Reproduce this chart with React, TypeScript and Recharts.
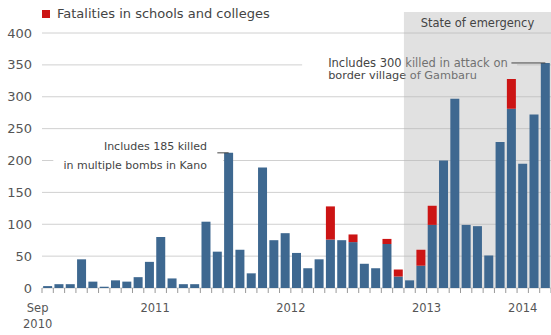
import React from 'react'
import { BarChart, Bar, XAxis, YAxis, CartesianGrid, ReferenceArea, ReferenceLine } from 'recharts'

// Months, Sep 2010 - May 2014
const months = [
  'Sep 2010', 'Oct 2010', 'Nov 2010', 'Dec 2010',
  'Jan 2011', 'Feb 2011', 'Mar 2011', 'Apr 2011', 'May 2011', 'Jun 2011',
  'Jul 2011', 'Aug 2011', 'Sep 2011', 'Oct 2011', 'Nov 2011', 'Dec 2011',
  'Jan 2012', 'Feb 2012', 'Mar 2012', 'Apr 2012', 'May 2012', 'Jun 2012',
  'Jul 2012', 'Aug 2012', 'Sep 2012', 'Oct 2012', 'Nov 2012', 'Dec 2012',
  'Jan 2013', 'Feb 2013', 'Mar 2013', 'Apr 2013', 'May 2013', 'Jun 2013',
  'Jul 2013', 'Aug 2013', 'Sep 2013', 'Oct 2013', 'Nov 2013', 'Dec 2013',
  'Jan 2014', 'Feb 2014', 'Mar 2014', 'Apr 2014', 'May 2014',
]

// other fatalities (blue)
const otherDeaths = [
  3, 6, 6, 45, 10, 2, 12, 10, 17, 41, 80, 15, 6, 6, 104, 57, 212, 60, 23, 189, 75, 86, 55,
  31, 45, 76, 75, 72, 38, 31, 69, 18, 12, 35, 99, 200, 297, 99, 97, 51, 229, 281, 195, 272, 353,
]

// fatalities in schools and colleges (red)
const schoolDeaths = [
  0, 0, 0, 0, 0, 0, 0, 0, 0, 0, 0, 0, 0, 0, 0, 0, 0, 0, 0, 0, 0, 0, 0,
  0, 0, 52, 0, 12, 0, 0, 8, 11, 0, 25, 30, 0, 0, 0, 0, 0, 0, 47, 0, 0, 0,
]

const yTicks = [0, 50, 100, 150, 200, 250, 300, 350, 400]

const yearLabels: Record<string, string[]> = {
  'Sep 2010': ['Sep', '2010'],
  'Jul 2011': ['2011'],
  'Jul 2012': ['2012'],
  'Jul 2013': ['2013'],
  'Mar 2014': ['2014'],
}

const data = months.map((m, i) => ({ month: m, other: otherDeaths[i], schools: schoolDeaths[i] }))

const W = 551
const H = 335
const LEFT = 42
const STEP = (W - LEFT) / months.length
const BLUE = '#3e6890'
const RED = '#cc1414'
const TEXT = '#555'
const FONT = '"DejaVu Sans", Verdana, sans-serif'

const MonthTick = (props: any) => {
  const { x, y, payload } = props
  const label = yearLabels[payload.value]
  let lx = x
  if (payload.value.startsWith('Jul')) lx = x - STEP / 2
  if (payload.value === 'Sep 2010') lx = x - 10
  return (
    <g>
      <line x1={x - STEP / 2} x2={x - STEP / 2} y1={y} y2={y + 5} stroke="#999" />
      {payload.index === months.length - 1 && (
        <line x1={x + STEP / 2} x2={x + STEP / 2} y1={y} y2={y + 5} stroke="#999" />
      )}
      {label &&
        label.map((t, i) => (
          <text key={i} x={lx} y={y + 24 + i * 16} textAnchor="middle" fontSize={11.5} fill={TEXT}>
            {t}
          </text>
        ))}
    </g>
  )
}

// annotation text, right-aligned to the box edge
const kanoLabel = (props: any) => {
  const vb = props.viewBox || {}
  const right = Number(vb.x) + Number(vb.width) - 16
  const y = Number(vb.y)
  return (
    <g>
      <text x={right} y={y + 12.5} fontSize={11} fill="#444" textAnchor="end">Includes 185 killed</text>
      <text x={right} y={y + 31} fontSize={11} fill="#444" textAnchor="end">in multiple bombs in Kano</text>
    </g>
  )
}

const gambaruLabel = (props: any) => {
  const { x, y } = props.viewBox
  return (
    <g>
      <text x={x + 26} y={y + 13.5} fontSize={11.5} fill="#444">Includes 300 killed in attack on</text>
      <text x={x + 26} y={y + 26} fontSize={11.3} fill="#444">border village of Gambaru</text>
    </g>
  )
}

const emergencyLabel = (props: any) => {
  const { x, y, width } = props.viewBox
  return (
    <text x={x + width / 2} y={y + 15} textAnchor="middle" fontSize={11.5} fill="#444">
      State of emergency
    </text>
  )
}

export default function App() {
  return (
    <div style={{ position: 'absolute', left: 0, top: 0, width: W, height: H, background: '#fff', fontFamily: FONT }}>
      <div style={{ position: 'absolute', left: 42, top: 6, display: 'flex', alignItems: 'center', fontSize: 13, color: '#444' }}>
        <span style={{ display: 'inline-block', width: 8, height: 8, background: RED, marginRight: 7 }} />
        Fatalities in schools and colleges
      </div>
      <BarChart width={W} height={H} data={data} margin={{ top: 33, right: 0, bottom: 0, left: 0 }} barCategoryGap="10%" style={{ fontFamily: FONT }}>
        <CartesianGrid vertical={false} stroke="#d0d0d0" />
        <XAxis
          dataKey="month"
          height={47}
          axisLine={false}
          tickLine={false}
          tickSize={0}
          tickMargin={0}
          interval={0}
          tick={<MonthTick />}
        />
        <YAxis
          width={LEFT}
          domain={[0, 400]}
          ticks={yTicks}
          axisLine={false}
          tickLine={false}
          tick={{ fontSize: 13, fill: TEXT, dx: -2 }}
        />
        <ReferenceArea x1="Aug 2012" x2="Feb 2014" y1={322} y2={368} fill="#fff" fillOpacity={1} label={gambaruLabel} />
        <ReferenceArea x1="Sep 2010" x2="Sep 2010" y1={182} y2={236} fill="#fff" fillOpacity={1} />
        <ReferenceArea x1="Oct 2010" x2="Dec 2011" y1={182} y2={236} fill="#fff" fillOpacity={1} label={kanoLabel} />
        <ReferenceArea
          x1="May 2013"
          x2="May 2014"
          y1={0}
          y2={433}
          ifOverflow="visible"
          fill="#b4b4b4"
          fillOpacity={0.4}
          label={emergencyLabel}
        />
        <ReferenceLine segment={[{ x: 'Dec 2011', y: 212 }, { x: 'Jan 2012', y: 212 }]} stroke="#444" />
        <ReferenceLine segment={[{ x: 'Feb 2014', y: 353 }, { x: 'May 2014', y: 353 }]} stroke="#444" />
        <Bar dataKey="other" stackId="a" fill={BLUE} isAnimationActive={false} />
        <Bar dataKey="schools" stackId="a" fill={RED} isAnimationActive={false} />
      </BarChart>
    </div>
  )
}
